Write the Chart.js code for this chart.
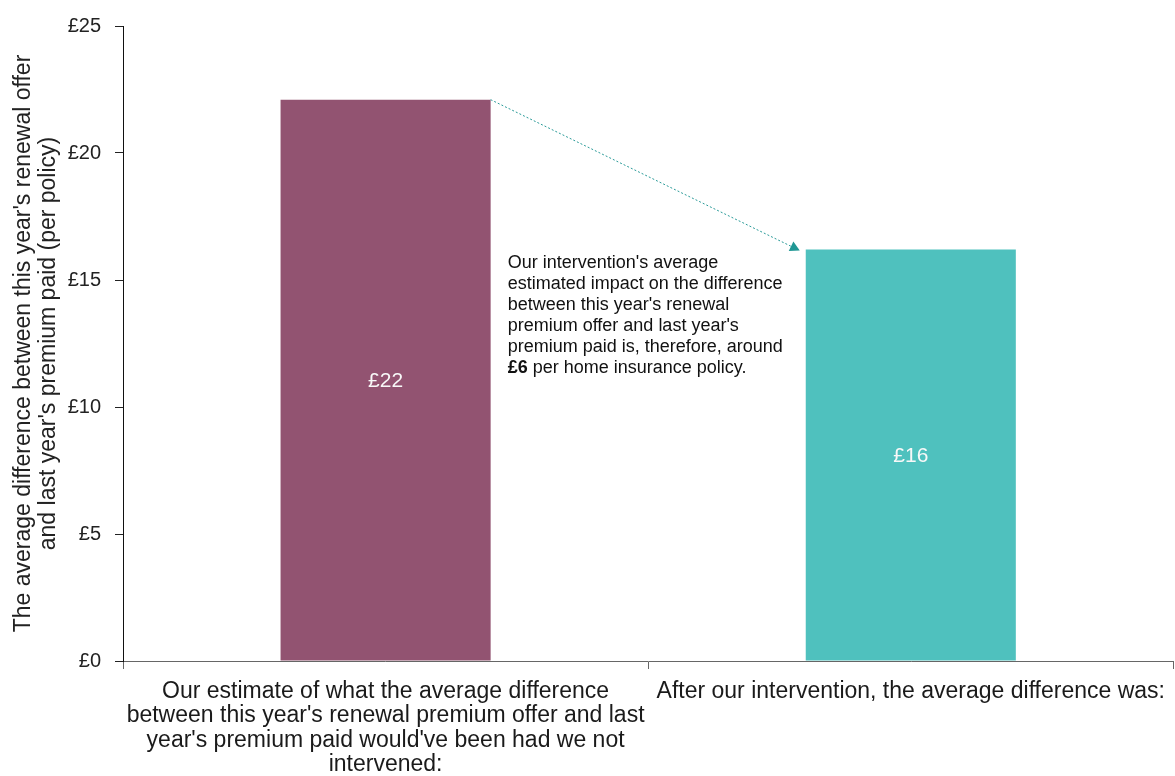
<!DOCTYPE html>
<html>
<head>
<meta charset="utf-8">
<script src="https://cdn.jsdelivr.net/npm/chart.js@4.4.1/dist/chart.umd.min.js"></script>
<style>
  html, body { margin: 0; padding: 0; background: #fff; }
  #wrap { width: 1175px; height: 776px; position: relative; }
</style>
</head>
<body>
<div id="wrap"><canvas id="chart"></canvas></div>
<script>
const categories = [
  [
    "Our estimate of what the average difference",
    "between this year's renewal premium offer and last",
    "year's premium paid would've been had we not",
    "intervened:",
  ],
  "After our intervention, the average difference was:",
];
const values = [22.1, 16.2];
const barColors = ["#925371", "#4fc1be"];
const yTicks = [0, 5, 10, 15, 20, 25];
const yTitle = [
  "The average difference between this year's renewal offer",
  "and last year's premium paid (per policy)",
];
const noteLines = [
  "Our intervention's average",
  "estimated impact on the difference",
  "between this year's renewal",
  "premium offer and last year's",
  "premium paid is, therefore, around",
];
const noteBold = "£6";
const noteLast = " per home insurance policy.";

const ctx = document.getElementById("chart");
const FONT = "'Liberation Sans', Arial, sans-serif";

// Labels inside bars, dotted arrow and the note
const extras = {
  id: "extras",
  afterDatasetsDraw: (chart) => {
    const c = chart.ctx;
    const bars = chart.getDatasetMeta(0).data;
    c.save();

    c.fillStyle = "#f8f8f8";
    c.font = "21px " + FONT;
    c.textAlign = "center";
    c.textBaseline = "middle";
    bars.forEach((bar, i) => {
      const mid = (bar.y + bar.base) / 2;
      c.fillText("£" + Math.round(values[i]), bar.x, mid + 1);
    });

    // Dotted arrow from first bar top to second bar top
    const b1 = bars[0];
    const b2 = bars[1];
    const x1 = b1.x + b1.width / 2;
    const y1 = b1.y;
    const x2 = b2.x - b2.width / 2 - 6;
    const y2 = b2.y + 1;
    c.strokeStyle = "#2a9a98";
    c.lineWidth = 1;
    c.setLineDash([2, 2]);
    c.beginPath();
    c.moveTo(x1, y1);
    c.lineTo(x2, y2);
    c.stroke();
    c.setLineDash([]);
    const ang = Math.atan2(y2 - y1, x2 - x1);
    const len = 11;
    c.fillStyle = "#1f9794";
    c.beginPath();
    c.moveTo(x2, y2);
    c.lineTo(x2 - len * Math.cos(ang - 0.5), y2 - len * Math.sin(ang - 0.5));
    c.lineTo(x2 - len * Math.cos(ang + 0.5), y2 - len * Math.sin(ang + 0.5));
    c.closePath();
    c.fill();

    // Note text
    const nx = x1 + 17;
    let ny = b2.y + 14;
    const lh = 21;
    c.fillStyle = "#111";
    c.textAlign = "left";
    c.textBaseline = "middle";
    c.font = "18px " + FONT;
    noteLines.forEach((t) => {
      c.fillText(t, nx, ny);
      ny += lh;
    });
    c.font = "bold 18px " + FONT;
    c.fillText(noteBold, nx, ny);
    const bw = c.measureText(noteBold).width;
    c.font = "18px " + FONT;
    c.fillText(noteLast, nx + bw, ny);

    c.restore();
  },
};

new Chart(ctx, {
  type: "bar",
  data: {
    labels: categories,
    datasets: [
      {
        data: values,
        backgroundColor: barColors,
        barPercentage: 0.4,
        categoryPercentage: 1,
      },
    ],
  },
  options: {
    responsive: true,
    maintainAspectRatio: false,
    animation: false,
    layout: { padding: { top: 25, right: 0, left: 0, bottom: 0 } },
    plugins: {
      legend: false,
      tooltip: false,
    },
    scales: {
      x: {
        grid: {
          offset: true,
          drawOnChartArea: false,
          tickLength: 8,
          color: "#666",
        },
        border: { color: "#666" },
        ticks: {
          maxRotation: 0,
          autoSkip: false,
          color: "#1a1a1a",
          font: { family: FONT, size: 23, lineHeight: 1.07 },
          padding: 10,
        },
        afterFit: (scale) => {
          scale.height = 115;
        },
      },
      y: {
        min: 0,
        max: 25,
        afterBuildTicks: (scale) => {
          scale.ticks = yTicks.map((v) => ({ value: v }));
        },
        grid: {
          drawOnChartArea: false,
          tickLength: 8,
          color: "#222",
        },
        border: { color: "#111" },
        ticks: {
          color: "#222",
          padding: 14,
          font: { family: FONT, size: 20 },
          callback: (v) => "£" + v,
        },
        title: {
          display: true,
          text: yTitle,
          color: "#222",
          font: { family: FONT, size: 23, lineHeight: 1.08 },
          padding: { top: 11, bottom: 0 },
        },
        afterFit: (scale) => {
          scale.width = 123;
        },
      },
    },
  },
  plugins: [extras],
});
</script>
</body>
</html>
